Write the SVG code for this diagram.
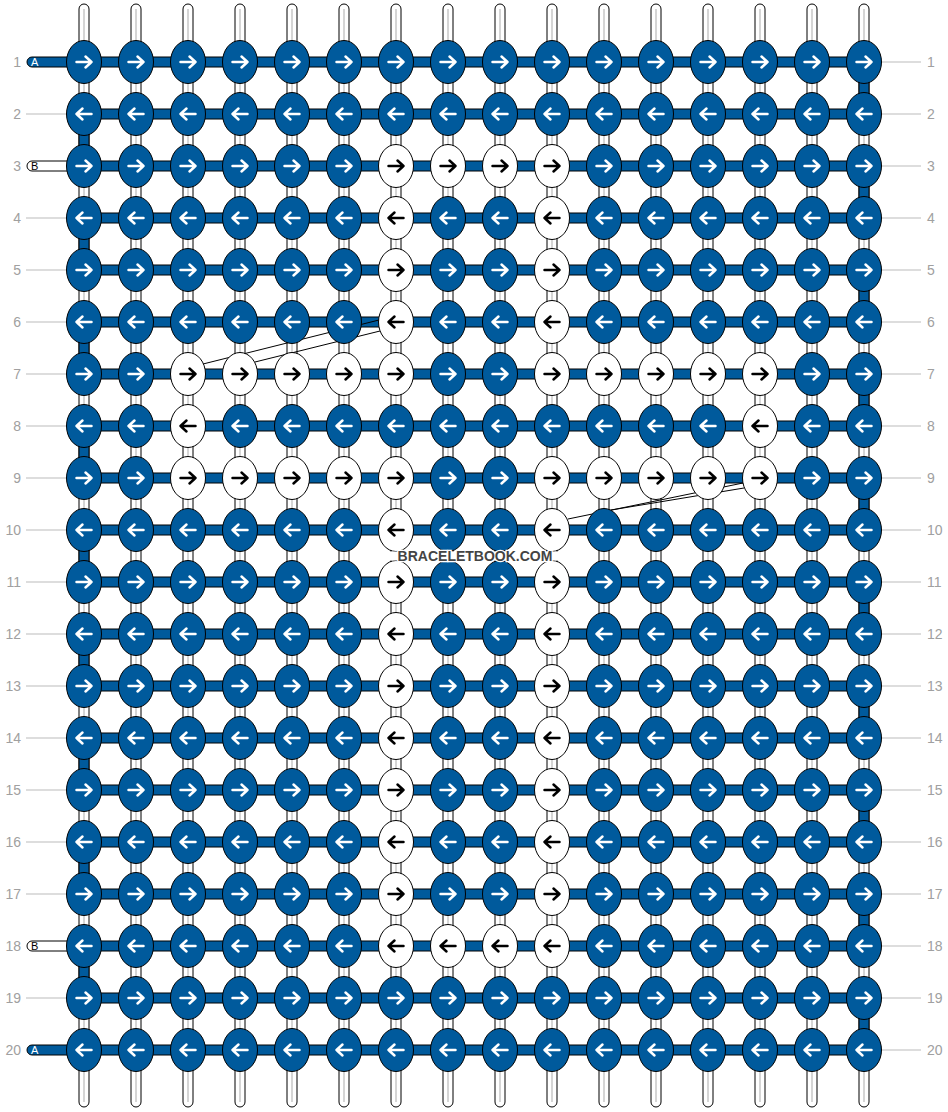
<svg xmlns="http://www.w3.org/2000/svg" xmlns:xlink="http://www.w3.org/1999/xlink" width="948" height="1112" viewBox="0 0 948 1112">
<style>
.vt{fill:#fff;stroke:#000;stroke-width:1}
.vc{stroke:#c8c8c8;stroke-width:1.5}
.hb{fill:#005a9c;stroke:#000;stroke-width:1}
.bs{fill:#fff;stroke:#000;stroke-width:1}
.gl{stroke:#bbb;stroke-width:1}
.dl{stroke:#000;stroke-width:1;fill:none}
.ar{fill:none;stroke-width:2.5;stroke-linecap:round;stroke-linejoin:round}
.lb{font-family:"Liberation Sans",Arial,sans-serif;font-size:14px;fill:#a0a0a0}
.tl{font-family:"Liberation Sans",Arial,sans-serif;font-size:11px}
.wm{font-family:"Liberation Sans",Arial,sans-serif;font-size:14px;font-weight:bold;fill:#444;stroke:#fff;stroke-width:2.5;paint-order:stroke;text-anchor:middle}
</style>
<defs>
<g id="BR"><ellipse rx="17.5" ry="21.5" fill="#005a9c" stroke="#000"/><path class="ar" stroke="#fff" d="M-7.5,0H7.5M1.5,-5.5L7.5,0L1.5,5.5"/></g>
<g id="BL"><ellipse rx="17.5" ry="21.5" fill="#005a9c" stroke="#000"/><path class="ar" stroke="#fff" d="M7.5,0H-7.5M-1.5,-5.5L-7.5,0L-1.5,5.5"/></g>
<g id="WR"><ellipse rx="17.5" ry="21.5" fill="#fff" stroke="#000"/><path class="ar" stroke="#000" d="M-7.5,0H7.5M1.5,-5.5L7.5,0L1.5,5.5"/></g>
<g id="WL"><ellipse rx="17.5" ry="21.5" fill="#fff" stroke="#000"/><path class="ar" stroke="#000" d="M7.5,0H-7.5M-1.5,-5.5L-7.5,0L-1.5,5.5"/></g>
</defs>
<rect width="948" height="1112" fill="#fff"/>
<g id="labels">
<text class="lb" x="21" y="67" text-anchor="end">1</text><text class="lb" x="21" y="119" text-anchor="end">2</text><text class="lb" x="21" y="171" text-anchor="end">3</text><text class="lb" x="21" y="223" text-anchor="end">4</text><text class="lb" x="21" y="275" text-anchor="end">5</text><text class="lb" x="21" y="327" text-anchor="end">6</text><text class="lb" x="21" y="379" text-anchor="end">7</text><text class="lb" x="21" y="431" text-anchor="end">8</text><text class="lb" x="21" y="483" text-anchor="end">9</text><text class="lb" x="21" y="535" text-anchor="end">10</text><text class="lb" x="21" y="587" text-anchor="end">11</text><text class="lb" x="21" y="639" text-anchor="end">12</text><text class="lb" x="21" y="691" text-anchor="end">13</text><text class="lb" x="21" y="743" text-anchor="end">14</text><text class="lb" x="21" y="795" text-anchor="end">15</text><text class="lb" x="21" y="847" text-anchor="end">16</text><text class="lb" x="21" y="899" text-anchor="end">17</text><text class="lb" x="21" y="951" text-anchor="end">18</text><text class="lb" x="21" y="1003" text-anchor="end">19</text><text class="lb" x="21" y="1055" text-anchor="end">20</text>
<text class="lb" x="927" y="67">1</text><text class="lb" x="927" y="119">2</text><text class="lb" x="927" y="171">3</text><text class="lb" x="927" y="223">4</text><text class="lb" x="927" y="275">5</text><text class="lb" x="927" y="327">6</text><text class="lb" x="927" y="379">7</text><text class="lb" x="927" y="431">8</text><text class="lb" x="927" y="483">9</text><text class="lb" x="927" y="535">10</text><text class="lb" x="927" y="587">11</text><text class="lb" x="927" y="639">12</text><text class="lb" x="927" y="691">13</text><text class="lb" x="927" y="743">14</text><text class="lb" x="927" y="795">15</text><text class="lb" x="927" y="847">16</text><text class="lb" x="927" y="899">17</text><text class="lb" x="927" y="951">18</text><text class="lb" x="927" y="1003">19</text><text class="lb" x="927" y="1055">20</text>
</g>
<g id="connectors">
<g id="guide-lines">
<path class="gl" d="M26,114H67M26,218H67M26,270H67M26,322H67M26,374H67M26,426H67M26,478H67M26,530H67M26,582H67M26,634H67M26,686H67M26,738H67M26,790H67M26,842H67M26,894H67M26,998H67"/>
<path class="gl" d="M881,62H921M881,114H921M881,166H921M881,218H921M881,270H921M881,322H921M881,374H921M881,426H921M881,478H921M881,530H921M881,582H921M881,634H921M881,686H921M881,738H921M881,790H921M881,842H921M881,894H921M881,946H921M881,998H921M881,1050H921"/>
</g>
<g id="vertical-threads">
<rect class="vt" x="79" y="4" width="10" height="1103" rx="5"/><rect class="vt" x="131" y="4" width="10" height="1103" rx="5"/><rect class="vt" x="183" y="4" width="10" height="1103" rx="5"/><rect class="vt" x="235" y="4" width="10" height="1103" rx="5"/><rect class="vt" x="287" y="4" width="10" height="1103" rx="5"/><rect class="vt" x="339" y="4" width="10" height="1103" rx="5"/><rect class="vt" x="391" y="4" width="10" height="1103" rx="5"/><rect class="vt" x="443" y="4" width="10" height="1103" rx="5"/><rect class="vt" x="495" y="4" width="10" height="1103" rx="5"/><rect class="vt" x="547" y="4" width="10" height="1103" rx="5"/><rect class="vt" x="599" y="4" width="10" height="1103" rx="5"/><rect class="vt" x="651" y="4" width="10" height="1103" rx="5"/><rect class="vt" x="703" y="4" width="10" height="1103" rx="5"/><rect class="vt" x="755" y="4" width="10" height="1103" rx="5"/><rect class="vt" x="807" y="4" width="10" height="1103" rx="5"/><rect class="vt" x="859" y="4" width="10" height="1103" rx="5"/>
<path class="vc" d="M84,9V1102M136,9V1102M188,9V1102M240,9V1102M292,9V1102M344,9V1102M396,9V1102M448,9V1102M500,9V1102M552,9V1102M604,9V1102M656,9V1102M708,9V1102M760,9V1102M812,9V1102M864,9V1102"/>
</g>
<g id="turns">
<rect class="hb" x="859" y="77" width="10" height="22"/><rect class="hb" x="859" y="181" width="10" height="22"/><rect class="hb" x="859" y="285" width="10" height="22"/><rect class="hb" x="859" y="389" width="10" height="22"/><rect class="hb" x="859" y="493" width="10" height="22"/><rect class="hb" x="859" y="597" width="10" height="22"/><rect class="hb" x="859" y="701" width="10" height="22"/><rect class="hb" x="859" y="805" width="10" height="22"/><rect class="hb" x="859" y="909" width="10" height="22"/><rect class="hb" x="859" y="1013" width="10" height="22"/>
<rect class="hb" x="79" y="129" width="10" height="22"/><rect class="hb" x="79" y="233" width="10" height="22"/><rect class="hb" x="79" y="337" width="10" height="22"/><rect class="hb" x="79" y="441" width="10" height="22"/><rect class="hb" x="79" y="545" width="10" height="22"/><rect class="hb" x="79" y="649" width="10" height="22"/><rect class="hb" x="79" y="753" width="10" height="22"/><rect class="hb" x="79" y="857" width="10" height="22"/><rect class="hb" x="79" y="961" width="10" height="22"/>
</g>
<g id="row-threads">
<path class="hb" d="M864,57H32A5,5 0 0 0 32,67H864Z"/>
<rect class="hb" x="84" y="109" width="780" height="10"/>
<path class="bs" d="M90,161H32A5,5 0 0 0 32,171H90Z"/>
<rect class="hb" x="84" y="161" width="780" height="10"/>
<rect class="hb" x="84" y="213" width="780" height="10"/>
<rect class="hb" x="84" y="265" width="780" height="10"/>
<rect class="hb" x="84" y="317" width="780" height="10"/>
<rect class="hb" x="84" y="369" width="780" height="10"/>
<rect class="hb" x="84" y="421" width="780" height="10"/>
<rect class="hb" x="84" y="473" width="780" height="10"/>
<rect class="hb" x="84" y="525" width="780" height="10"/>
<rect class="hb" x="84" y="577" width="780" height="10"/>
<rect class="hb" x="84" y="629" width="780" height="10"/>
<rect class="hb" x="84" y="681" width="780" height="10"/>
<rect class="hb" x="84" y="733" width="780" height="10"/>
<rect class="hb" x="84" y="785" width="780" height="10"/>
<rect class="hb" x="84" y="837" width="780" height="10"/>
<rect class="hb" x="84" y="889" width="780" height="10"/>
<path class="bs" d="M90,941H32A5,5 0 0 0 32,951H90Z"/>
<rect class="hb" x="84" y="941" width="780" height="10"/>
<rect class="hb" x="84" y="993" width="780" height="10"/>
<path class="hb" d="M864,1045H32A5,5 0 0 0 32,1055H864Z"/>
<text class="tl" x="31" y="66" fill="#fff">A</text>
<text class="tl" x="31" y="170" fill="#000">B</text>
<text class="tl" x="31" y="950" fill="#000">B</text>
<text class="tl" x="31" y="1054" fill="#fff">A</text>
</g>
<g id="diagonals">
<path class="dl" d="M203,364L379,320M255,362L380,331"/>
<path class="dl" d="M568,519L743,483M611,510L744,488"/>
</g>
</g>
<g id="knots">
<g id="r1c1"><use href="#BR" x="84" y="62"/></g><g id="r1c2"><use href="#BR" x="136" y="62"/></g><g id="r1c3"><use href="#BR" x="188" y="62"/></g><g id="r1c4"><use href="#BR" x="240" y="62"/></g><g id="r1c5"><use href="#BR" x="292" y="62"/></g><g id="r1c6"><use href="#BR" x="344" y="62"/></g><g id="r1c7"><use href="#BR" x="396" y="62"/></g><g id="r1c8"><use href="#BR" x="448" y="62"/></g><g id="r1c9"><use href="#BR" x="500" y="62"/></g><g id="r1c10"><use href="#BR" x="552" y="62"/></g><g id="r1c11"><use href="#BR" x="604" y="62"/></g><g id="r1c12"><use href="#BR" x="656" y="62"/></g><g id="r1c13"><use href="#BR" x="708" y="62"/></g><g id="r1c14"><use href="#BR" x="760" y="62"/></g><g id="r1c15"><use href="#BR" x="812" y="62"/></g><g id="r1c16"><use href="#BR" x="864" y="62"/></g>
<g id="r2c1"><use href="#BL" x="84" y="114"/></g><g id="r2c2"><use href="#BL" x="136" y="114"/></g><g id="r2c3"><use href="#BL" x="188" y="114"/></g><g id="r2c4"><use href="#BL" x="240" y="114"/></g><g id="r2c5"><use href="#BL" x="292" y="114"/></g><g id="r2c6"><use href="#BL" x="344" y="114"/></g><g id="r2c7"><use href="#BL" x="396" y="114"/></g><g id="r2c8"><use href="#BL" x="448" y="114"/></g><g id="r2c9"><use href="#BL" x="500" y="114"/></g><g id="r2c10"><use href="#BL" x="552" y="114"/></g><g id="r2c11"><use href="#BL" x="604" y="114"/></g><g id="r2c12"><use href="#BL" x="656" y="114"/></g><g id="r2c13"><use href="#BL" x="708" y="114"/></g><g id="r2c14"><use href="#BL" x="760" y="114"/></g><g id="r2c15"><use href="#BL" x="812" y="114"/></g><g id="r2c16"><use href="#BL" x="864" y="114"/></g>
<g id="r3c1"><use href="#BR" x="84" y="166"/></g><g id="r3c2"><use href="#BR" x="136" y="166"/></g><g id="r3c3"><use href="#BR" x="188" y="166"/></g><g id="r3c4"><use href="#BR" x="240" y="166"/></g><g id="r3c5"><use href="#BR" x="292" y="166"/></g><g id="r3c6"><use href="#BR" x="344" y="166"/></g><g id="r3c7"><use href="#WR" x="396" y="166"/></g><g id="r3c8"><use href="#WR" x="448" y="166"/></g><g id="r3c9"><use href="#WR" x="500" y="166"/></g><g id="r3c10"><use href="#WR" x="552" y="166"/></g><g id="r3c11"><use href="#BR" x="604" y="166"/></g><g id="r3c12"><use href="#BR" x="656" y="166"/></g><g id="r3c13"><use href="#BR" x="708" y="166"/></g><g id="r3c14"><use href="#BR" x="760" y="166"/></g><g id="r3c15"><use href="#BR" x="812" y="166"/></g><g id="r3c16"><use href="#BR" x="864" y="166"/></g>
<g id="r4c1"><use href="#BL" x="84" y="218"/></g><g id="r4c2"><use href="#BL" x="136" y="218"/></g><g id="r4c3"><use href="#BL" x="188" y="218"/></g><g id="r4c4"><use href="#BL" x="240" y="218"/></g><g id="r4c5"><use href="#BL" x="292" y="218"/></g><g id="r4c6"><use href="#BL" x="344" y="218"/></g><g id="r4c7"><use href="#WL" x="396" y="218"/></g><g id="r4c8"><use href="#BL" x="448" y="218"/></g><g id="r4c9"><use href="#BL" x="500" y="218"/></g><g id="r4c10"><use href="#WL" x="552" y="218"/></g><g id="r4c11"><use href="#BL" x="604" y="218"/></g><g id="r4c12"><use href="#BL" x="656" y="218"/></g><g id="r4c13"><use href="#BL" x="708" y="218"/></g><g id="r4c14"><use href="#BL" x="760" y="218"/></g><g id="r4c15"><use href="#BL" x="812" y="218"/></g><g id="r4c16"><use href="#BL" x="864" y="218"/></g>
<g id="r5c1"><use href="#BR" x="84" y="270"/></g><g id="r5c2"><use href="#BR" x="136" y="270"/></g><g id="r5c3"><use href="#BR" x="188" y="270"/></g><g id="r5c4"><use href="#BR" x="240" y="270"/></g><g id="r5c5"><use href="#BR" x="292" y="270"/></g><g id="r5c6"><use href="#BR" x="344" y="270"/></g><g id="r5c7"><use href="#WR" x="396" y="270"/></g><g id="r5c8"><use href="#BR" x="448" y="270"/></g><g id="r5c9"><use href="#BR" x="500" y="270"/></g><g id="r5c10"><use href="#WR" x="552" y="270"/></g><g id="r5c11"><use href="#BR" x="604" y="270"/></g><g id="r5c12"><use href="#BR" x="656" y="270"/></g><g id="r5c13"><use href="#BR" x="708" y="270"/></g><g id="r5c14"><use href="#BR" x="760" y="270"/></g><g id="r5c15"><use href="#BR" x="812" y="270"/></g><g id="r5c16"><use href="#BR" x="864" y="270"/></g>
<g id="r6c1"><use href="#BL" x="84" y="322"/></g><g id="r6c2"><use href="#BL" x="136" y="322"/></g><g id="r6c3"><use href="#BL" x="188" y="322"/></g><g id="r6c4"><use href="#BL" x="240" y="322"/></g><g id="r6c5"><use href="#BL" x="292" y="322"/></g><g id="r6c6"><use href="#BL" x="344" y="322"/></g><g id="r6c7"><use href="#WL" x="396" y="322"/></g><g id="r6c8"><use href="#BL" x="448" y="322"/></g><g id="r6c9"><use href="#BL" x="500" y="322"/></g><g id="r6c10"><use href="#WL" x="552" y="322"/></g><g id="r6c11"><use href="#BL" x="604" y="322"/></g><g id="r6c12"><use href="#BL" x="656" y="322"/></g><g id="r6c13"><use href="#BL" x="708" y="322"/></g><g id="r6c14"><use href="#BL" x="760" y="322"/></g><g id="r6c15"><use href="#BL" x="812" y="322"/></g><g id="r6c16"><use href="#BL" x="864" y="322"/></g>
<g id="r7c1"><use href="#BR" x="84" y="374"/></g><g id="r7c2"><use href="#BR" x="136" y="374"/></g><g id="r7c3"><use href="#WR" x="188" y="374"/></g><g id="r7c4"><use href="#WR" x="240" y="374"/></g><g id="r7c5"><use href="#WR" x="292" y="374"/></g><g id="r7c6"><use href="#WR" x="344" y="374"/></g><g id="r7c7"><use href="#WR" x="396" y="374"/></g><g id="r7c8"><use href="#BR" x="448" y="374"/></g><g id="r7c9"><use href="#BR" x="500" y="374"/></g><g id="r7c10"><use href="#WR" x="552" y="374"/></g><g id="r7c11"><use href="#WR" x="604" y="374"/></g><g id="r7c12"><use href="#WR" x="656" y="374"/></g><g id="r7c13"><use href="#WR" x="708" y="374"/></g><g id="r7c14"><use href="#WR" x="760" y="374"/></g><g id="r7c15"><use href="#BR" x="812" y="374"/></g><g id="r7c16"><use href="#BR" x="864" y="374"/></g>
<g id="r8c1"><use href="#BL" x="84" y="426"/></g><g id="r8c2"><use href="#BL" x="136" y="426"/></g><g id="r8c3"><use href="#WL" x="188" y="426"/></g><g id="r8c4"><use href="#BL" x="240" y="426"/></g><g id="r8c5"><use href="#BL" x="292" y="426"/></g><g id="r8c6"><use href="#BL" x="344" y="426"/></g><g id="r8c7"><use href="#BL" x="396" y="426"/></g><g id="r8c8"><use href="#BL" x="448" y="426"/></g><g id="r8c9"><use href="#BL" x="500" y="426"/></g><g id="r8c10"><use href="#BL" x="552" y="426"/></g><g id="r8c11"><use href="#BL" x="604" y="426"/></g><g id="r8c12"><use href="#BL" x="656" y="426"/></g><g id="r8c13"><use href="#BL" x="708" y="426"/></g><g id="r8c14"><use href="#WL" x="760" y="426"/></g><g id="r8c15"><use href="#BL" x="812" y="426"/></g><g id="r8c16"><use href="#BL" x="864" y="426"/></g>
<g id="r9c1"><use href="#BR" x="84" y="478"/></g><g id="r9c2"><use href="#BR" x="136" y="478"/></g><g id="r9c3"><use href="#WR" x="188" y="478"/></g><g id="r9c4"><use href="#WR" x="240" y="478"/></g><g id="r9c5"><use href="#WR" x="292" y="478"/></g><g id="r9c6"><use href="#WR" x="344" y="478"/></g><g id="r9c7"><use href="#WR" x="396" y="478"/></g><g id="r9c8"><use href="#BR" x="448" y="478"/></g><g id="r9c9"><use href="#BR" x="500" y="478"/></g><g id="r9c10"><use href="#WR" x="552" y="478"/></g><g id="r9c11"><use href="#WR" x="604" y="478"/></g><g id="r9c12"><use href="#WR" x="656" y="478"/></g><g id="r9c13"><use href="#WR" x="708" y="478"/></g><g id="r9c14"><use href="#WR" x="760" y="478"/></g><g id="r9c15"><use href="#BR" x="812" y="478"/></g><g id="r9c16"><use href="#BR" x="864" y="478"/></g>
<g id="r10c1"><use href="#BL" x="84" y="530"/></g><g id="r10c2"><use href="#BL" x="136" y="530"/></g><g id="r10c3"><use href="#BL" x="188" y="530"/></g><g id="r10c4"><use href="#BL" x="240" y="530"/></g><g id="r10c5"><use href="#BL" x="292" y="530"/></g><g id="r10c6"><use href="#BL" x="344" y="530"/></g><g id="r10c7"><use href="#WL" x="396" y="530"/></g><g id="r10c8"><use href="#BL" x="448" y="530"/></g><g id="r10c9"><use href="#BL" x="500" y="530"/></g><g id="r10c10"><use href="#WL" x="552" y="530"/></g><g id="r10c11"><use href="#BL" x="604" y="530"/></g><g id="r10c12"><use href="#BL" x="656" y="530"/></g><g id="r10c13"><use href="#BL" x="708" y="530"/></g><g id="r10c14"><use href="#BL" x="760" y="530"/></g><g id="r10c15"><use href="#BL" x="812" y="530"/></g><g id="r10c16"><use href="#BL" x="864" y="530"/></g>
<g id="r11c1"><use href="#BR" x="84" y="582"/></g><g id="r11c2"><use href="#BR" x="136" y="582"/></g><g id="r11c3"><use href="#BR" x="188" y="582"/></g><g id="r11c4"><use href="#BR" x="240" y="582"/></g><g id="r11c5"><use href="#BR" x="292" y="582"/></g><g id="r11c6"><use href="#BR" x="344" y="582"/></g><g id="r11c7"><use href="#WR" x="396" y="582"/></g><g id="r11c8"><use href="#BR" x="448" y="582"/></g><g id="r11c9"><use href="#BR" x="500" y="582"/></g><g id="r11c10"><use href="#WR" x="552" y="582"/></g><g id="r11c11"><use href="#BR" x="604" y="582"/></g><g id="r11c12"><use href="#BR" x="656" y="582"/></g><g id="r11c13"><use href="#BR" x="708" y="582"/></g><g id="r11c14"><use href="#BR" x="760" y="582"/></g><g id="r11c15"><use href="#BR" x="812" y="582"/></g><g id="r11c16"><use href="#BR" x="864" y="582"/></g>
<g id="r12c1"><use href="#BL" x="84" y="634"/></g><g id="r12c2"><use href="#BL" x="136" y="634"/></g><g id="r12c3"><use href="#BL" x="188" y="634"/></g><g id="r12c4"><use href="#BL" x="240" y="634"/></g><g id="r12c5"><use href="#BL" x="292" y="634"/></g><g id="r12c6"><use href="#BL" x="344" y="634"/></g><g id="r12c7"><use href="#WL" x="396" y="634"/></g><g id="r12c8"><use href="#BL" x="448" y="634"/></g><g id="r12c9"><use href="#BL" x="500" y="634"/></g><g id="r12c10"><use href="#WL" x="552" y="634"/></g><g id="r12c11"><use href="#BL" x="604" y="634"/></g><g id="r12c12"><use href="#BL" x="656" y="634"/></g><g id="r12c13"><use href="#BL" x="708" y="634"/></g><g id="r12c14"><use href="#BL" x="760" y="634"/></g><g id="r12c15"><use href="#BL" x="812" y="634"/></g><g id="r12c16"><use href="#BL" x="864" y="634"/></g>
<g id="r13c1"><use href="#BR" x="84" y="686"/></g><g id="r13c2"><use href="#BR" x="136" y="686"/></g><g id="r13c3"><use href="#BR" x="188" y="686"/></g><g id="r13c4"><use href="#BR" x="240" y="686"/></g><g id="r13c5"><use href="#BR" x="292" y="686"/></g><g id="r13c6"><use href="#BR" x="344" y="686"/></g><g id="r13c7"><use href="#WR" x="396" y="686"/></g><g id="r13c8"><use href="#BR" x="448" y="686"/></g><g id="r13c9"><use href="#BR" x="500" y="686"/></g><g id="r13c10"><use href="#WR" x="552" y="686"/></g><g id="r13c11"><use href="#BR" x="604" y="686"/></g><g id="r13c12"><use href="#BR" x="656" y="686"/></g><g id="r13c13"><use href="#BR" x="708" y="686"/></g><g id="r13c14"><use href="#BR" x="760" y="686"/></g><g id="r13c15"><use href="#BR" x="812" y="686"/></g><g id="r13c16"><use href="#BR" x="864" y="686"/></g>
<g id="r14c1"><use href="#BL" x="84" y="738"/></g><g id="r14c2"><use href="#BL" x="136" y="738"/></g><g id="r14c3"><use href="#BL" x="188" y="738"/></g><g id="r14c4"><use href="#BL" x="240" y="738"/></g><g id="r14c5"><use href="#BL" x="292" y="738"/></g><g id="r14c6"><use href="#BL" x="344" y="738"/></g><g id="r14c7"><use href="#WL" x="396" y="738"/></g><g id="r14c8"><use href="#BL" x="448" y="738"/></g><g id="r14c9"><use href="#BL" x="500" y="738"/></g><g id="r14c10"><use href="#WL" x="552" y="738"/></g><g id="r14c11"><use href="#BL" x="604" y="738"/></g><g id="r14c12"><use href="#BL" x="656" y="738"/></g><g id="r14c13"><use href="#BL" x="708" y="738"/></g><g id="r14c14"><use href="#BL" x="760" y="738"/></g><g id="r14c15"><use href="#BL" x="812" y="738"/></g><g id="r14c16"><use href="#BL" x="864" y="738"/></g>
<g id="r15c1"><use href="#BR" x="84" y="790"/></g><g id="r15c2"><use href="#BR" x="136" y="790"/></g><g id="r15c3"><use href="#BR" x="188" y="790"/></g><g id="r15c4"><use href="#BR" x="240" y="790"/></g><g id="r15c5"><use href="#BR" x="292" y="790"/></g><g id="r15c6"><use href="#BR" x="344" y="790"/></g><g id="r15c7"><use href="#WR" x="396" y="790"/></g><g id="r15c8"><use href="#BR" x="448" y="790"/></g><g id="r15c9"><use href="#BR" x="500" y="790"/></g><g id="r15c10"><use href="#WR" x="552" y="790"/></g><g id="r15c11"><use href="#BR" x="604" y="790"/></g><g id="r15c12"><use href="#BR" x="656" y="790"/></g><g id="r15c13"><use href="#BR" x="708" y="790"/></g><g id="r15c14"><use href="#BR" x="760" y="790"/></g><g id="r15c15"><use href="#BR" x="812" y="790"/></g><g id="r15c16"><use href="#BR" x="864" y="790"/></g>
<g id="r16c1"><use href="#BL" x="84" y="842"/></g><g id="r16c2"><use href="#BL" x="136" y="842"/></g><g id="r16c3"><use href="#BL" x="188" y="842"/></g><g id="r16c4"><use href="#BL" x="240" y="842"/></g><g id="r16c5"><use href="#BL" x="292" y="842"/></g><g id="r16c6"><use href="#BL" x="344" y="842"/></g><g id="r16c7"><use href="#WL" x="396" y="842"/></g><g id="r16c8"><use href="#BL" x="448" y="842"/></g><g id="r16c9"><use href="#BL" x="500" y="842"/></g><g id="r16c10"><use href="#WL" x="552" y="842"/></g><g id="r16c11"><use href="#BL" x="604" y="842"/></g><g id="r16c12"><use href="#BL" x="656" y="842"/></g><g id="r16c13"><use href="#BL" x="708" y="842"/></g><g id="r16c14"><use href="#BL" x="760" y="842"/></g><g id="r16c15"><use href="#BL" x="812" y="842"/></g><g id="r16c16"><use href="#BL" x="864" y="842"/></g>
<g id="r17c1"><use href="#BR" x="84" y="894"/></g><g id="r17c2"><use href="#BR" x="136" y="894"/></g><g id="r17c3"><use href="#BR" x="188" y="894"/></g><g id="r17c4"><use href="#BR" x="240" y="894"/></g><g id="r17c5"><use href="#BR" x="292" y="894"/></g><g id="r17c6"><use href="#BR" x="344" y="894"/></g><g id="r17c7"><use href="#WR" x="396" y="894"/></g><g id="r17c8"><use href="#BR" x="448" y="894"/></g><g id="r17c9"><use href="#BR" x="500" y="894"/></g><g id="r17c10"><use href="#WR" x="552" y="894"/></g><g id="r17c11"><use href="#BR" x="604" y="894"/></g><g id="r17c12"><use href="#BR" x="656" y="894"/></g><g id="r17c13"><use href="#BR" x="708" y="894"/></g><g id="r17c14"><use href="#BR" x="760" y="894"/></g><g id="r17c15"><use href="#BR" x="812" y="894"/></g><g id="r17c16"><use href="#BR" x="864" y="894"/></g>
<g id="r18c1"><use href="#BL" x="84" y="946"/></g><g id="r18c2"><use href="#BL" x="136" y="946"/></g><g id="r18c3"><use href="#BL" x="188" y="946"/></g><g id="r18c4"><use href="#BL" x="240" y="946"/></g><g id="r18c5"><use href="#BL" x="292" y="946"/></g><g id="r18c6"><use href="#BL" x="344" y="946"/></g><g id="r18c7"><use href="#WL" x="396" y="946"/></g><g id="r18c8"><use href="#WL" x="448" y="946"/></g><g id="r18c9"><use href="#WL" x="500" y="946"/></g><g id="r18c10"><use href="#WL" x="552" y="946"/></g><g id="r18c11"><use href="#BL" x="604" y="946"/></g><g id="r18c12"><use href="#BL" x="656" y="946"/></g><g id="r18c13"><use href="#BL" x="708" y="946"/></g><g id="r18c14"><use href="#BL" x="760" y="946"/></g><g id="r18c15"><use href="#BL" x="812" y="946"/></g><g id="r18c16"><use href="#BL" x="864" y="946"/></g>
<g id="r19c1"><use href="#BR" x="84" y="998"/></g><g id="r19c2"><use href="#BR" x="136" y="998"/></g><g id="r19c3"><use href="#BR" x="188" y="998"/></g><g id="r19c4"><use href="#BR" x="240" y="998"/></g><g id="r19c5"><use href="#BR" x="292" y="998"/></g><g id="r19c6"><use href="#BR" x="344" y="998"/></g><g id="r19c7"><use href="#BR" x="396" y="998"/></g><g id="r19c8"><use href="#BR" x="448" y="998"/></g><g id="r19c9"><use href="#BR" x="500" y="998"/></g><g id="r19c10"><use href="#BR" x="552" y="998"/></g><g id="r19c11"><use href="#BR" x="604" y="998"/></g><g id="r19c12"><use href="#BR" x="656" y="998"/></g><g id="r19c13"><use href="#BR" x="708" y="998"/></g><g id="r19c14"><use href="#BR" x="760" y="998"/></g><g id="r19c15"><use href="#BR" x="812" y="998"/></g><g id="r19c16"><use href="#BR" x="864" y="998"/></g>
<g id="r20c1"><use href="#BL" x="84" y="1050"/></g><g id="r20c2"><use href="#BL" x="136" y="1050"/></g><g id="r20c3"><use href="#BL" x="188" y="1050"/></g><g id="r20c4"><use href="#BL" x="240" y="1050"/></g><g id="r20c5"><use href="#BL" x="292" y="1050"/></g><g id="r20c6"><use href="#BL" x="344" y="1050"/></g><g id="r20c7"><use href="#BL" x="396" y="1050"/></g><g id="r20c8"><use href="#BL" x="448" y="1050"/></g><g id="r20c9"><use href="#BL" x="500" y="1050"/></g><g id="r20c10"><use href="#BL" x="552" y="1050"/></g><g id="r20c11"><use href="#BL" x="604" y="1050"/></g><g id="r20c12"><use href="#BL" x="656" y="1050"/></g><g id="r20c13"><use href="#BL" x="708" y="1050"/></g><g id="r20c14"><use href="#BL" x="760" y="1050"/></g><g id="r20c15"><use href="#BL" x="812" y="1050"/></g><g id="r20c16"><use href="#BL" x="864" y="1050"/></g>
</g>
<g id="watermark">
<rect x="389" y="551.5" width="170" height="9" fill="#fff"/>
<text class="wm" x="475" y="561">BRACELETBOOK.COM</text>
</g>
</svg>
